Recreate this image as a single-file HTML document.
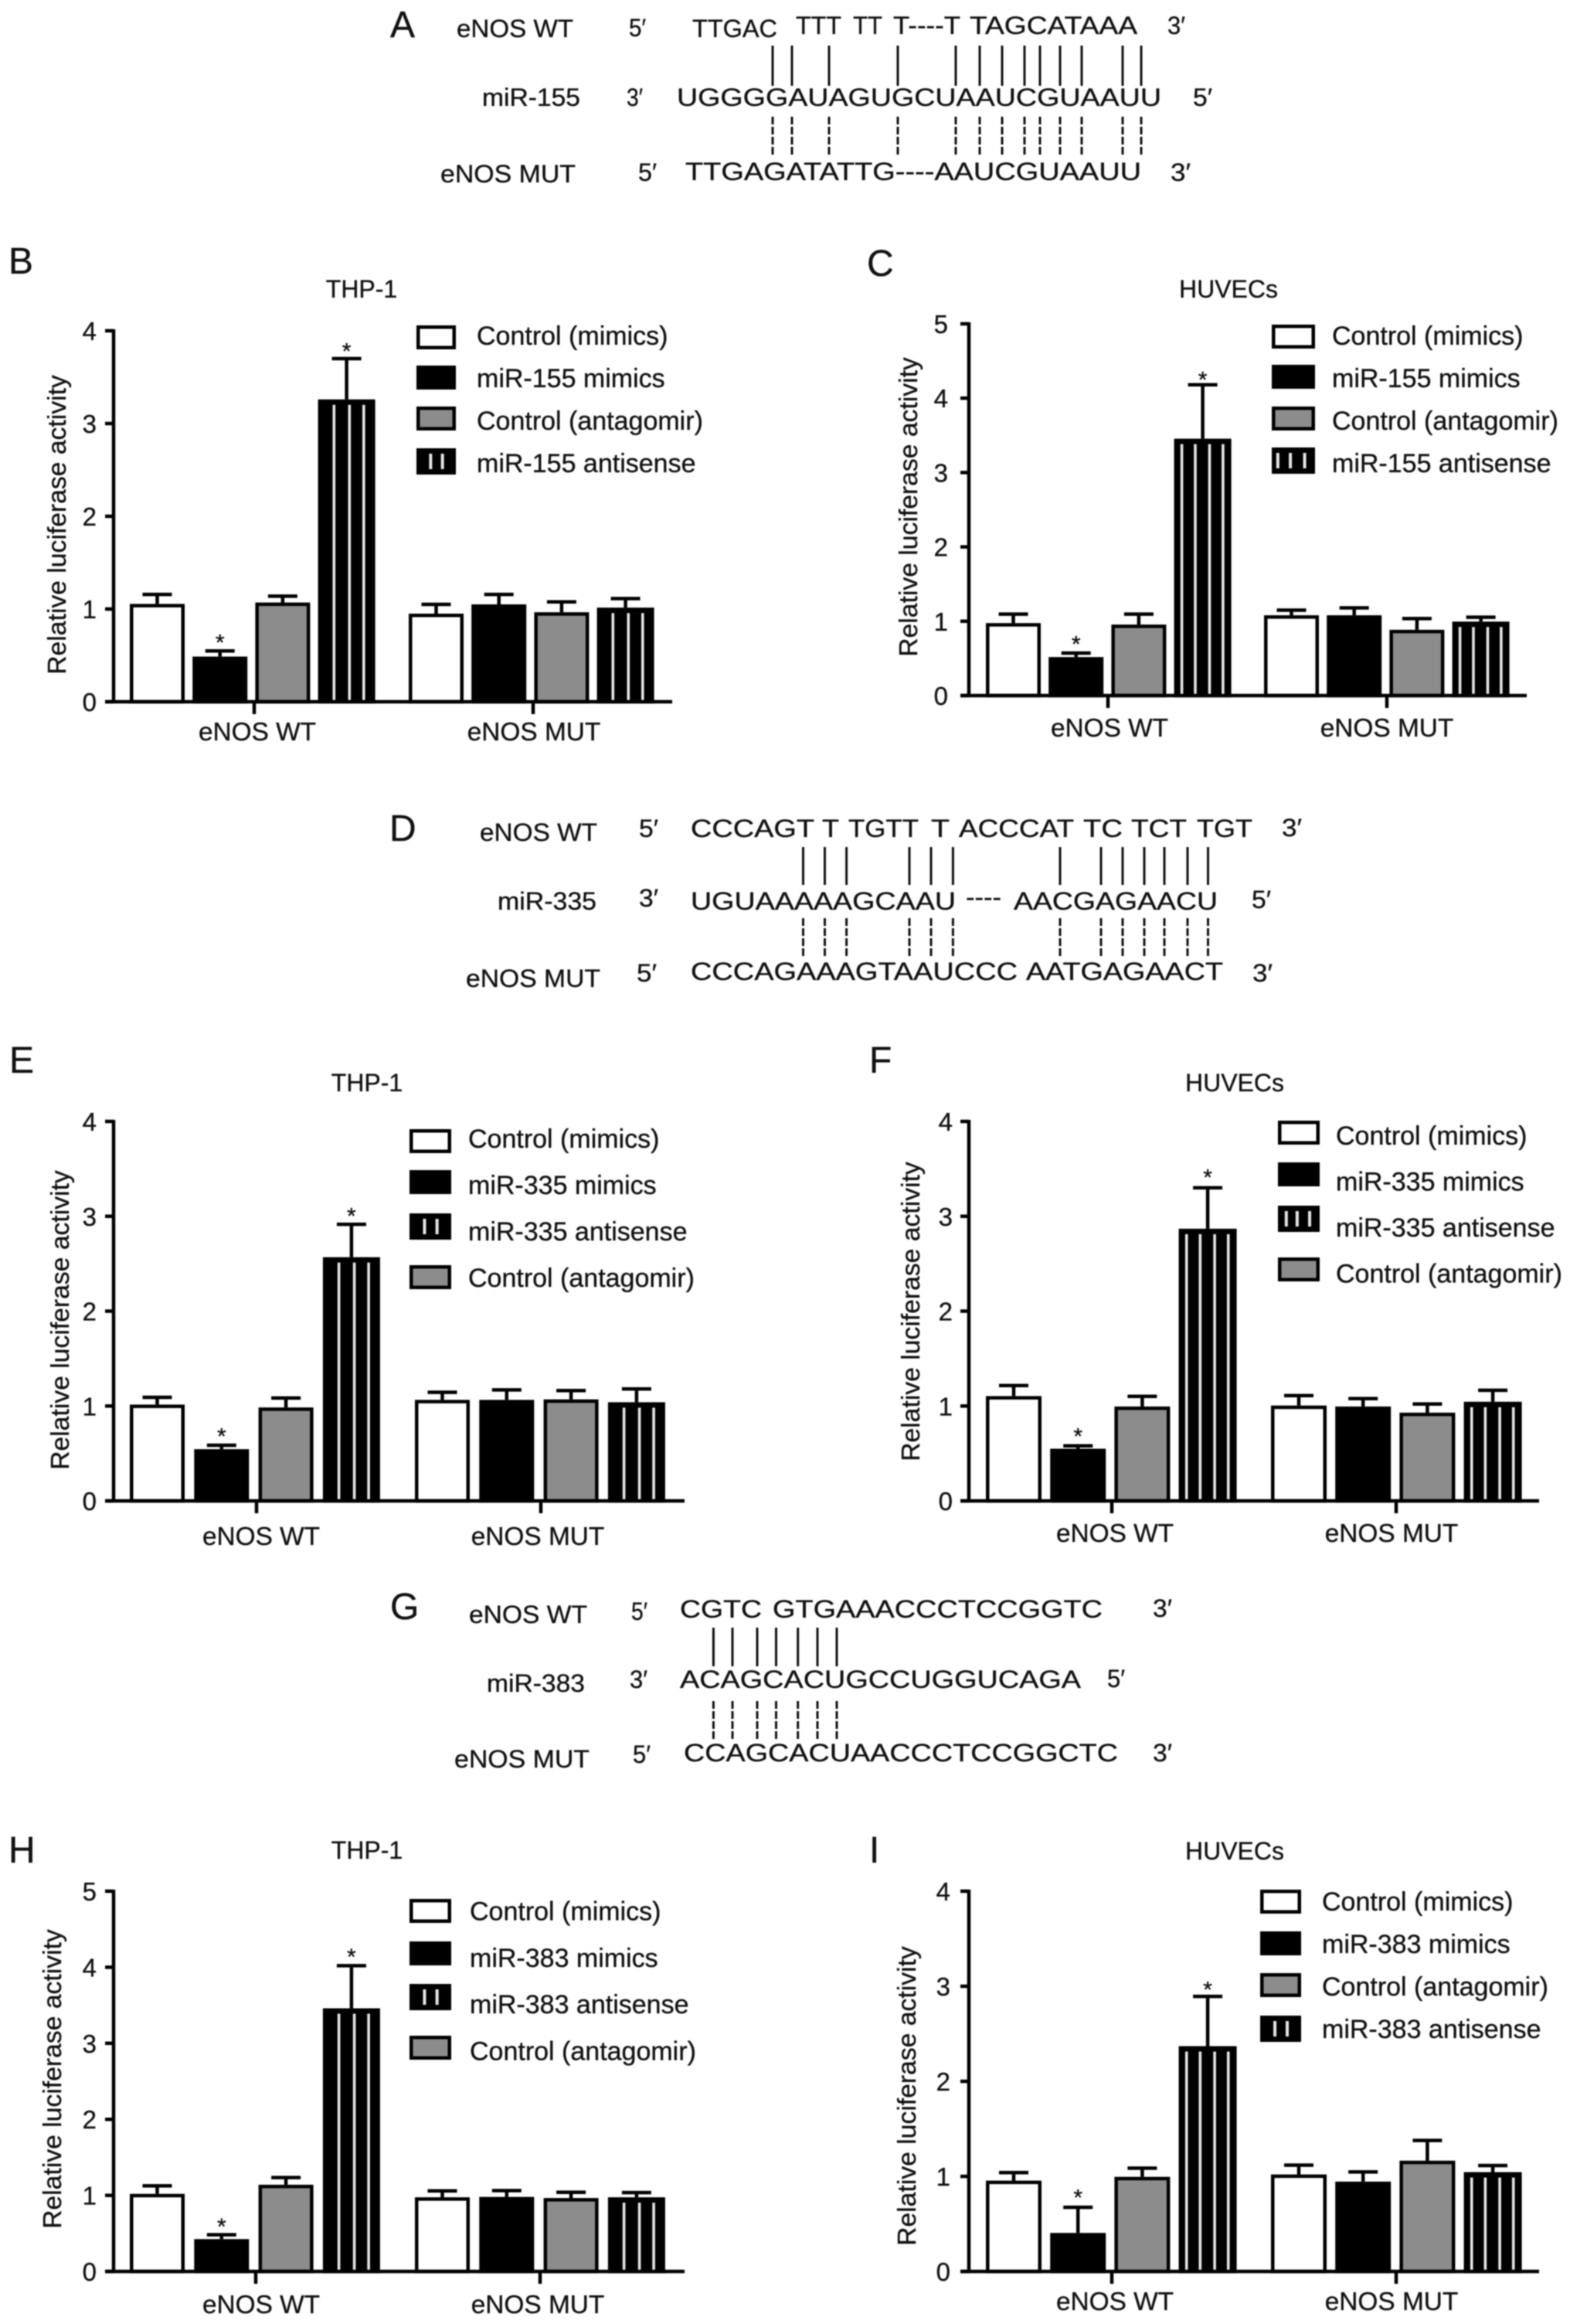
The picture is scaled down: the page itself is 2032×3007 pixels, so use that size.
<!DOCTYPE html>
<html lang="en">
<head>
<meta charset="utf-8">
<title>eNOS miRNA luciferase reporter figure</title>
<style>
html,body{margin:0;padding:0;background:#fff;width:2032px;height:3007px;overflow:hidden}
svg{display:block;filter:blur(0.7px)}
text{font-family:"Liberation Sans",Arial,sans-serif;fill:#111;stroke:#111;stroke-width:0.35px}
.s{font-size:32px}
.p{font-size:48px}
</style>
</head>
<body>
<svg id="figure" xmlns="http://www.w3.org/2000/svg" width="2032" height="3007" viewBox="0 0 2032 3007">
<rect x="0" y="0" width="2032" height="3007" fill="#fff"/>

<g transform="translate(-4 -1)">
<text class="p" x="509" y="49">A</text>
<text class="s" x="595" y="49" textLength="151" lengthAdjust="spacingAndGlyphs">eNOS WT</text>
<text class="s" x="818" y="48" textLength="22" lengthAdjust="spacingAndGlyphs">5′</text>
<text class="s" x="900" y="49" textLength="110" lengthAdjust="spacingAndGlyphs">TTGAC</text>
<text class="s" x="1034" y="45" textLength="59" lengthAdjust="spacingAndGlyphs">TTT</text>
<text class="s" x="1108" y="45" textLength="38" lengthAdjust="spacingAndGlyphs">TT</text>
<text class="s" x="1160" y="45" textLength="87" lengthAdjust="spacingAndGlyphs">T----T</text>
<text class="s" x="1259" y="45" textLength="217" lengthAdjust="spacingAndGlyphs">TAGCATAAA</text>
<text class="s" x="1515" y="45" textLength="23" lengthAdjust="spacingAndGlyphs">3′</text>
<text class="s" x="628" y="138" textLength="127" lengthAdjust="spacingAndGlyphs">miR-155</text>
<text class="s" x="815" y="138" textLength="21" lengthAdjust="spacingAndGlyphs">3′</text>
<text class="s" x="880" y="138" textLength="627" lengthAdjust="spacingAndGlyphs">UGGGGAUAGUGCUAAUCGUAAUU</text>
<text class="s" x="1548" y="138" textLength="25" lengthAdjust="spacingAndGlyphs">5′</text>
<text class="s" x="574" y="237" textLength="175" lengthAdjust="spacingAndGlyphs">eNOS MUT</text>
<text class="s" x="830" y="235" textLength="24" lengthAdjust="spacingAndGlyphs">5′</text>
<text class="s" x="891" y="234" textLength="590" lengthAdjust="spacingAndGlyphs">TTGAGATATTG----AAUCGUAAUU</text>
<text class="s" x="1519" y="235" textLength="26" lengthAdjust="spacingAndGlyphs">3′</text>
<path stroke="#111" stroke-width="3" fill="none" d="M1004 60V112M1029 60V112M1077 60V112M1166 60V112M1241 60V112M1272 60V112M1301 60V112M1330 60V112M1350 60V112M1376 60V112M1404 60V112M1457 60V112M1481 60V112"/>
<path stroke="#111" stroke-width="3" stroke-dasharray="10 3" fill="none" d="M1004 152V202M1029 152V202M1077 152V202M1166 152V202M1241 152V202M1272 152V202M1301 152V202M1330 152V202M1350 152V202M1376 152V202M1404 152V202M1457 152V202M1481 152V202"/>
</g>

<g transform="translate(-3 0)">
<text class="p" x="507" y="1088">D</text>
<text class="s" x="624" y="1088" textLength="152" lengthAdjust="spacingAndGlyphs">eNOS WT</text>
<text class="s" x="830" y="1083" textLength="25" lengthAdjust="spacingAndGlyphs">5′</text>
<text class="s" x="897" y="1083" textLength="160" lengthAdjust="spacingAndGlyphs">CCCAGT</text>
<text class="s" x="1067" y="1083" textLength="22" lengthAdjust="spacingAndGlyphs">T</text>
<text class="s" x="1101" y="1083" textLength="91" lengthAdjust="spacingAndGlyphs">TGTT</text>
<text class="s" x="1208" y="1083" textLength="24" lengthAdjust="spacingAndGlyphs">T</text>
<text class="s" x="1244" y="1083" textLength="149" lengthAdjust="spacingAndGlyphs">ACCCAT</text>
<text class="s" x="1405" y="1083" textLength="51" lengthAdjust="spacingAndGlyphs">TC</text>
<text class="s" x="1467" y="1083" textLength="72" lengthAdjust="spacingAndGlyphs">TCT</text>
<text class="s" x="1552" y="1083" textLength="72" lengthAdjust="spacingAndGlyphs">TGT</text>
<text class="s" x="1662" y="1082" textLength="26" lengthAdjust="spacingAndGlyphs">3′</text>
<text class="s" x="647" y="1177" textLength="128" lengthAdjust="spacingAndGlyphs">miR-335</text>
<text class="s" x="830" y="1173" textLength="25" lengthAdjust="spacingAndGlyphs">3′</text>
<text class="s" x="897" y="1177" textLength="343" lengthAdjust="spacingAndGlyphs">UGUAAAAAGCAAU</text>
<text class="s" x="1253" y="1172" textLength="46" lengthAdjust="spacingAndGlyphs">----</text>
<text class="s" x="1315" y="1177" textLength="264" lengthAdjust="spacingAndGlyphs">AACGAGAACU</text>
<text class="s" x="1623" y="1175" textLength="25" lengthAdjust="spacingAndGlyphs">5′</text>
<text class="s" x="606" y="1277" textLength="174" lengthAdjust="spacingAndGlyphs">eNOS MUT</text>
<text class="s" x="827" y="1270" textLength="26" lengthAdjust="spacingAndGlyphs">5′</text>
<text class="s" x="897" y="1268" textLength="423" lengthAdjust="spacingAndGlyphs">CCCAGAAAGTAAUCCC</text>
<text class="s" x="1331" y="1268" textLength="255" lengthAdjust="spacingAndGlyphs">AATGAGAACT</text>
<text class="s" x="1624" y="1270" textLength="26" lengthAdjust="spacingAndGlyphs">3′</text>
<path stroke="#111" stroke-width="3" fill="none" d="M1042.5 1096V1145M1070.5 1096V1145M1098.6 1096V1145M1180 1096V1145M1208 1096V1145M1236.4 1096V1145M1375 1096V1145M1428 1096V1145M1456 1096V1145M1484 1096V1145M1510 1096V1145M1540 1096V1145M1566.5 1096V1145"/>
<path stroke="#111" stroke-width="3" stroke-dasharray="10 3" fill="none" d="M1042.5 1188V1237M1070.5 1188V1237M1098.6 1188V1237M1180 1188V1237M1208 1188V1237M1236.4 1188V1237M1375 1188V1237M1428 1188V1237M1456 1188V1237M1484 1188V1237M1510 1188V1237M1540 1188V1237M1566.5 1188V1237"/>
</g>

<g transform="translate(-3 -1)">
<text class="p" x="508" y="2096">G</text>
<text class="s" x="610" y="2101" textLength="153" lengthAdjust="spacingAndGlyphs">eNOS WT</text>
<text class="s" x="820" y="2097" textLength="21" lengthAdjust="spacingAndGlyphs">5′</text>
<text class="s" x="883" y="2094" textLength="106" lengthAdjust="spacingAndGlyphs">CGTC</text>
<text class="s" x="1003" y="2094" textLength="427" lengthAdjust="spacingAndGlyphs">GTGAAACCCTCCGGTC</text>
<text class="s" x="1495" y="2093" textLength="25" lengthAdjust="spacingAndGlyphs">3′</text>
<text class="s" x="633" y="2190" textLength="127" lengthAdjust="spacingAndGlyphs">miR-383</text>
<text class="s" x="818" y="2185" textLength="23" lengthAdjust="spacingAndGlyphs">3′</text>
<text class="s" x="883" y="2185" textLength="519" lengthAdjust="spacingAndGlyphs">ACAGCACUGCCUGGUCAGA</text>
<text class="s" x="1436" y="2184" textLength="23" lengthAdjust="spacingAndGlyphs">5′</text>
<text class="s" x="591" y="2288" textLength="175" lengthAdjust="spacingAndGlyphs">eNOS MUT</text>
<text class="s" x="822" y="2282" textLength="23" lengthAdjust="spacingAndGlyphs">5′</text>
<text class="s" x="888" y="2280" textLength="562" lengthAdjust="spacingAndGlyphs">CCAGCACUAACCCTCCGGCTC</text>
<text class="s" x="1495" y="2280" textLength="25" lengthAdjust="spacingAndGlyphs">3′</text>
<path stroke="#111" stroke-width="3" fill="none" d="M926.4 2107V2157M951 2107V2157M983 2107V2157M1007.5 2107V2157M1035.7 2107V2157M1061 2107V2157M1086 2107V2157"/>
<path stroke="#111" stroke-width="3" stroke-dasharray="10 3" fill="none" d="M926.4 2202V2252M951 2202V2252M983 2202V2252M1007.5 2202V2252M1035.7 2202V2252M1061 2202V2252M1086 2202V2252"/>
</g>

<text class="p" x="11" y="354">B</text>
<text class="p" x="1122" y="357">C</text>
<text class="p" x="12" y="1388">E</text>
<text class="p" x="1125" y="1388">F</text>
<text class="p" x="11" y="2410">H</text>
<text class="p" x="1125" y="2410">I</text>
</svg>

<script>
// Shared category labels
const categories = ['eNOS WT', 'eNOS MUT'];
const yAxisTitle = 'Relative luciferase activity';

// Values are ordered: four bars of eNOS WT, then four bars of eNOS MUT.
// Bar order is always: control (mimics), mimics, control (antagomir), antisense.
const panelBTicks = [0, 1, 2, 3, 4];
const panelBMeans = [1.055, 0.487, 1.07, 3.26, 0.95, 1.05, 0.965, 1.015];
const panelBUpper = [1.157, 0.548, 1.139, 3.70, 1.05, 1.157, 1.077, 1.113];
const panelBLegend = ['Control (mimics)', 'miR-155 mimics', 'Control (antagomir)', 'miR-155 antisense'];
const panelBLegendKinds = ['white', 'black', 'gray', 'stripe'];

const panelCTicks = [0, 1, 2, 3, 4, 5];
const panelCMeans = [0.975, 0.518, 0.955, 3.455, 1.08, 1.08, 0.885, 0.995];
const panelCUpper = [1.095, 0.572, 1.095, 4.18, 1.149, 1.18, 1.036, 1.054];
const panelCLegend = ['Control (mimics)', 'miR-155 mimics', 'Control (antagomir)', 'miR-155 antisense'];
const panelCLegendKinds = ['white', 'black', 'gray', 'stripe'];

const panelETicks = [0, 1, 2, 3, 4];
const panelEMeans = [1.015, 0.545, 0.985, 2.569, 1.065, 1.065, 1.07, 1.04];
const panelEUpper = [1.092, 0.587, 1.085, 2.915, 1.145, 1.17, 1.163, 1.18];
const panelELegend = ['Control (mimics)', 'miR-335 mimics', 'miR-335 antisense', 'Control (antagomir)'];
const panelELegendKinds = ['white', 'black', 'stripe', 'gray'];

const panelFTicks = [0, 1, 2, 3, 4];
const panelFMeans = [1.105, 0.55, 0.995, 2.869, 1.005, 0.995, 0.93, 1.045];
const panelFUpper = [1.216, 0.58, 1.102, 3.30, 1.11, 1.078, 1.021, 1.166];
const panelFLegend = ['Control (mimics)', 'miR-335 mimics', 'miR-335 antisense', 'Control (antagomir)'];
const panelFLegendKinds = ['white', 'black', 'stripe', 'gray'];

const panelHTicks = [0, 1, 2, 3, 4, 5];
const panelHMeans = [1.02, 0.425, 1.14, 3.46, 0.975, 0.98, 0.965, 0.975];
const panelHUpper = [1.125, 0.483, 1.235, 4.02, 1.059, 1.063, 1.041, 1.037];
const panelHLegend = ['Control (mimics)', 'miR-383 mimics', 'miR-383 antisense', 'Control (antagomir)'];
const panelHLegendKinds = ['white', 'black', 'stripe', 'gray'];

const panelITicks = [0, 1, 2, 3, 4];
const panelIMeans = [0.955, 0.405, 0.995, 2.37, 1.02, 0.945, 1.165, 1.045];
const panelIUpper = [1.04, 0.675, 1.086, 2.893, 1.118, 1.047, 1.378, 1.114];
const panelILegend = ['Control (mimics)', 'miR-383 mimics', 'Control (antagomir)', 'miR-383 antisense'];
const panelILegendKinds = ['white', 'black', 'gray', 'stripe'];

// Bar indexes flagged as significant
const significantBars = [1, 3];

const SVGNS = 'http://www.w3.org/2000/svg';
const root = document.getElementById('figure');
const BAR_FILL = { white: '#fff', black: '#000', gray: '#8c8c8c', stripe: '#000' };
const THREE_LINES = [0.28, 0.55, 0.80];
const FOUR_LINES = [0.135, 0.37, 0.62, 0.855];

function node(tag, parent, attrs) {
  const n = document.createElementNS(SVGNS, tag);
  for (const k in attrs) n.setAttribute(k, attrs[k]);
  parent.appendChild(n);
  return n;
}

function drawPanel(p) {
  const g = node('g', root, {});
  
  

  const maxTick = p.ticks[p.ticks.length - 1];
  const yScale = v => p.zeroY - (v / maxTick) * (p.zeroY - p.topY);
  const barKind = i => ['white', 'black', 'gray', 'stripe'][i % 4];
  const barLeft = i => p.groupStart[i < 4 ? 0 : 1] + (i % 4) * p.step;
  const barWidth = i => barKind(i) === 'stripe' ? p.barW + 3 : p.barW;

  // title
  const title = node('text', g, { x: p.titleX, y: p.titleY, 'text-anchor': 'middle', 'font-size': 32 });
  title.textContent = p.title;
  
  

  // y-axis title
  const yt = node('text', g, { 'text-anchor': 'middle', 'font-size': 33.7, transform: 'translate(' + p.yTitleX + ' ' + p.yTitleY + ') rotate(-90)' });
  yt.textContent = yAxisTitle;
  
  

  // error bars (behind bars) and bars
  p.means.forEach((mean, i) => {
    const cx = barLeft(i) + barWidth(i) / 2;
    const err = node('path', g, {
      d: 'M' + cx + ' ' + yScale(mean) + 'V' + yScale(p.upper[i]) + 'M' + (cx - 19) + ' ' + yScale(p.upper[i]) + 'H' + (cx + 19),
      stroke: '#000', 'stroke-width': 4.5, fill: 'none'
    });
    
    
  });

  p.means.forEach((mean, i) => {
    const kind = barKind(i);
    const left = barLeft(i), w = barWidth(i), top = yScale(mean);
    const bar = node('rect', g, {
      x: left + 2.25, y: top + 2.25, width: w - 4.5, height: Math.max(0, p.zeroY - top - 2.25),
      fill: BAR_FILL[kind], stroke: '#000', 'stroke-width': 4.5
    });
    
    
    if (kind === 'stripe') {
      p.stripes.forEach(f => {
        const sx = left + f * w;
        const line = node('path', g, { d: 'M' + sx + ' ' + (top + 7) + 'V' + (p.zeroY - 2), stroke: '#e6e6e6', 'stroke-width': 3.6, fill: 'none' });
        
        
      });
    }
  });

  // significance stars
  significantBars.forEach((b, k) => {
    const cx = barLeft(b) + barWidth(b) / 2;
    const star = node('text', g, { x: cx, y: yScale(p.upper[b]) - p.starGap[k] + 17.5, 'text-anchor': 'middle', 'font-size': 30 });
    star.textContent = '*';
    
    
  });

  // axes
  const yAxis = node('path', g, { d: 'M' + p.axisX + ' ' + (p.topY - 2) + 'V' + p.zeroY, stroke: '#000', 'stroke-width': 4.5, fill: 'none' });
  
  
  const xAxis = node('path', g, { d: 'M' + (p.axisX - 11) + ' ' + p.zeroY + 'H' + p.axisEnd, stroke: '#000', 'stroke-width': 4.5, fill: 'none' });
  
  

  p.ticks.forEach(t => {
    const y = yScale(t);
    const mark = node('path', g, { d: 'M' + (p.axisX - 11) + ' ' + y + 'H' + p.axisX, stroke: '#000', 'stroke-width': 4.5 });
    
    
    const lab = node('text', g, { x: p.tickRight, y: y + 12, 'text-anchor': 'end', 'font-size': 33 });
    lab.textContent = String(t);
    
    
  });

  categories.forEach((c, i) => {
    const mark = node('path', g, { d: 'M' + p.xTicks[i] + ' ' + p.zeroY + 'v16', stroke: '#000', 'stroke-width': 4.5 });
    
    
    const lab = node('text', g, { x: p.xLabelX[i], y: p.xLabelY, 'text-anchor': 'middle', 'font-size': 33.4 });
    lab.textContent = c;
    
    
  });

  // legend
  p.legend.forEach((label, i) => {
    const kind = p.legendKinds[i];
    const entry = node('g', g, {});
    
    
    const sy = p.swatchTops[i];
    const sh = kind === 'stripe' ? 34 : 31;
    const sw = node('rect', entry, { x: p.swatchX + 2.25, y: sy + 2.25, width: p.swatchW - 4.5, height: sh - 4.5, fill: BAR_FILL[kind], stroke: '#000', 'stroke-width': 4.5 });
    
    
    if (kind === 'stripe') {
      p.swatchStripes.forEach(f => {
        const l = node('path', entry, { d: 'M' + (p.swatchX + f * p.swatchW) + ' ' + (sy + 7) + 'V' + (sy + sh - 7), stroke: '#e6e6e6', 'stroke-width': 4 });
        
        
      });
    }
    const tx = node('text', entry, { x: p.legendTextX, y: p.legendTextY + i * p.legendTextStep + 12, 'font-size': 34 });
    tx.textContent = label;
    
    
  });
}

const panels = [
  { id: 'b', title: 'THP-1', ticks: panelBTicks, means: panelBMeans, upper: panelBUpper, legend: panelBLegend, legendKinds: panelBLegendKinds,
    axisX: 147, zeroY: 908, topY: 428, axisEnd: 870, xTicks: [329, 690], groupStart: [168, 529], step: 81.2, barW: 71, stripes: THREE_LINES,
    titleX: 468, titleY: 385, yTitleX: 85, yTitleY: 679, tickRight: 125, xLabelX: [333, 691], xLabelY: 958, starGap: [18, 17],
    swatchX: 539, swatchW: 51, swatchTops: [421, 473, 526, 580], swatchStripes: [0.36, 0.66], legendTextX: 617, legendTextY: 434, legendTextStep: 55 },
  { id: 'c', title: 'HUVECs', ticks: panelCTicks, means: panelCMeans, upper: panelCUpper, legend: panelCLegend, legendKinds: panelCLegendKinds,
    axisX: 1254, zeroY: 900, topY: 419, axisEnd: 1976, xTicks: [1434, 1795], groupStart: [1276, 1636], step: 81.2, barW: 71, stripes: FOUR_LINES,
    titleX: 1590, titleY: 385, yTitleX: 1187, yTitleY: 656, tickRight: 1227, xLabelX: [1436, 1795], xLabelY: 953, starGap: [19, 14],
    swatchX: 1646, swatchW: 56, swatchTops: [420, 472, 526, 579], swatchStripes: [0.14, 0.43, 0.76], legendTextX: 1724, legendTextY: 434, legendTextStep: 55 },
  { id: 'e', title: 'THP-1', ticks: panelETicks, means: panelEMeans, upper: panelEUpper, legend: panelELegend, legendKinds: panelELegendKinds,
    axisX: 147, zeroY: 1942, topY: 1451, axisEnd: 886, xTicks: [332, 700], groupStart: [168, 537], step: 83.3, barW: 71, stripes: THREE_LINES,
    titleX: 475, titleY: 1412, yTitleX: 89, yTitleY: 1708, tickRight: 125, xLabelX: [338, 696], xLabelY: 1999, starGap: [19, 18],
    swatchX: 530, swatchW: 54, swatchTops: [1461, 1514, 1570, 1637], swatchStripes: [0.36, 0.66], legendTextX: 606, legendTextY: 1473, legendTextStep: 60 },
  { id: 'f', title: 'HUVECs', ticks: panelFTicks, means: panelFMeans, upper: panelFUpper, legend: panelFLegend, legendKinds: panelFLegendKinds,
    axisX: 1254, zeroY: 1942, topY: 1451, axisEnd: 1992, xTicks: [1439, 1807], groupStart: [1276, 1645], step: 83.2, barW: 72, stripes: FOUR_LINES,
    titleX: 1598, titleY: 1412, yTitleX: 1190, yTitleY: 1697, tickRight: 1233, xLabelX: [1443, 1801], xLabelY: 1995, starGap: [20, 21],
    swatchX: 1654, swatchW: 54, swatchTops: [1450, 1504, 1560, 1627], swatchStripes: [0.2, 0.46, 0.76], legendTextX: 1729, legendTextY: 1469, legendTextStep: 59.5 },
  { id: 'h', title: 'THP-1', ticks: panelHTicks, means: panelHMeans, upper: panelHUpper, legend: panelHLegend, legendKinds: panelHLegendKinds,
    axisX: 147, zeroY: 2939, topY: 2447, axisEnd: 886, xTicks: [331, 699], groupStart: [168, 537], step: 83.3, barW: 71, stripes: THREE_LINES,
    titleX: 475, titleY: 2405, yTitleX: 79, yTitleY: 2690, tickRight: 125, xLabelX: [338, 696], xLabelY: 2993, starGap: [18, 19],
    swatchX: 530, swatchW: 54, swatchTops: [2457, 2512, 2567, 2634], swatchStripes: [0.36, 0.66], legendTextX: 608, legendTextY: 2472.5, legendTextStep: 60.3 },
  { id: 'i', title: 'HUVECs', ticks: panelITicks, means: panelIMeans, upper: panelIUpper, legend: panelILegend, legendKinds: panelILegendKinds,
    axisX: 1254, zeroY: 2939, topY: 2447, axisEnd: 1992, xTicks: [1439, 1807], groupStart: [1276, 1645], step: 83.2, barW: 72, stripes: FOUR_LINES,
    titleX: 1598, titleY: 2406, yTitleX: 1185, yTitleY: 2712, tickRight: 1230, xLabelX: [1443, 1801], xLabelY: 2989, starGap: [20, 16],
    swatchX: 1631, swatchW: 53, swatchTops: [2445, 2499, 2553, 2608], swatchStripes: [0.36, 0.66], legendTextX: 1711, legendTextY: 2460, legendTextStep: 55 }
];

panels.forEach(drawPanel);
</script>
</body>
</html>
